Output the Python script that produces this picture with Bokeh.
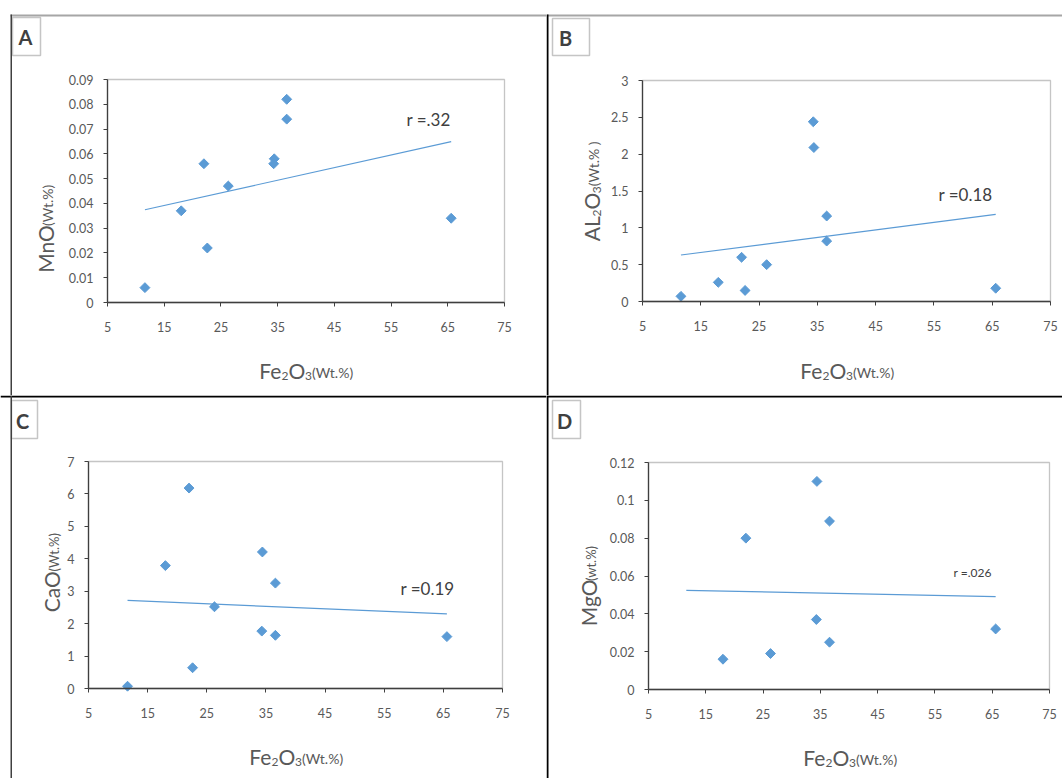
import numpy as np
from bokeh.plotting import figure
from bokeh.models import Range1d, FixedTicker, Label, BoxAnnotation
from bokeh.layouts import column, row
from bokeh.embed import file_html
from bokeh.resources import INLINE

# ---------------- data ----------------
fe2o3 = [11.6, 18.0, 22.0, 22.6, 26.3, 34.4, 34.3, 36.6, 36.6, 65.6]
mno = [0.006, 0.037, 0.056, 0.022, 0.047, 0.058, 0.056, 0.082, 0.074, 0.034]
al2o3 = [0.07, 0.26, 0.60, 0.15, 0.50, 2.09, 2.44, 1.16, 0.82, 0.18]
cao = [0.07, 3.79, 6.18, 0.64, 2.52, 4.21, 1.77, 3.25, 1.64, 1.60]
mgo = [None, 0.016, 0.080, None, 0.019, 0.110, 0.037, 0.089, 0.025, 0.032]

x_ticks = [5, 15, 25, 35, 45, 55, 65, 75]
x_tick_labels = ["5", "15", "25", "35", "45", "55", "65", "75"]
mno_ticks = [0, 0.01, 0.02, 0.03, 0.04, 0.05, 0.06, 0.07, 0.08, 0.09]
mno_labels = ["0", "0.01", "0.02", "0.03", "0.04", "0.05", "0.06", "0.07", "0.08", "0.09"]
al2o3_ticks = [0, 0.5, 1, 1.5, 2, 2.5, 3]
al2o3_labels = ["0", "0.5", "1", "1.5", "2", "2.5", "3"]
cao_ticks = [0, 1, 2, 3, 4, 5, 6, 7]
cao_labels = ["0", "1", "2", "3", "4", "5", "6", "7"]
mgo_ticks = [0, 0.02, 0.04, 0.06, 0.08, 0.1, 0.12]
mgo_labels = ["0", "0.02", "0.04", "0.06", "0.08", "0.1", "0.12"]
r_texts = ["r =.32", "r =0.18", "r =0.19", "r =.026"]
panel_letters = ["A", "B", "C", "D"]
X_MIN, X_MAX = 5, 75

FONT = "Lato"
TXT = "#595959"
DARK = "#404040"
BLUE = "#5B9BD5"

# approximate advance widths (em) used to lay out composite titles
W = {"A": .68, "C": .67, "F": .53, "L": .49, "M": .88, "O": .78, "W": .99,
     "a": .50, "e": .53, "g": .49, "n": .57, "t": .36, "w": .79,
     "(": .30, ")": .30, ".": .24, "%": .79, " ": .19,
     "2": .58, "3": .58}


def tw(s, size):
    return sum(W.get(c, .55) for c in s) * size


def box(p, x0, y0, x1, y1, color, fill=True, lw=1.5):
    b = BoxAnnotation(left=x0, right=x1, top=y0, bottom=y1,
                      left_units="canvas", right_units="canvas",
                      top_units="canvas", bottom_units="canvas")
    if fill:
        b.fill_color = color
        b.fill_alpha = 1
        b.line_alpha = 0
    else:
        b.fill_alpha = 0
        b.line_color = color
        b.line_width = lw
    p.add_layout(b)


def rich(p, pieces, base, center, vertical):
    total = sum(tw(t, s) for t, s, _ in pieces)
    if not vertical:
        pos = center - total / 2
        for t, s, sh in pieces:
            p.add_layout(Label(x=pos, y=base + sh, x_units="canvas", y_units="canvas",
                               text=t, text_font=FONT, text_font_size=f"{s}px",
                               text_color=TXT, text_align="left",
                               text_baseline="alphabetic"))
            pos += tw(t, s)
    else:
        pos = center + total / 2
        for t, s, sh in pieces:
            p.add_layout(Label(x=base + sh, y=pos, x_units="canvas", y_units="canvas",
                               text=t, text_font=FONT, text_font_size=f"{s}px",
                               text_color=TXT, text_align="left", angle=np.pi / 2,
                               text_baseline="alphabetic"))
            pos -= tw(t, s)


def fe_title():
    return [("Fe", 21, 0), ("2", 12, 5), ("O", 21, 0), ("3", 12, 5), ("(Wt.%)", 14, 2)]


def panel(w, h, frame, ymax, yvals, yticks, ylabels, ytitle, ybase, ycenter,
          xbase, xcenter, rtext, rpos, rsize, letter, lbox, lpos):
    left, right, top, bottom = frame
    xs_per_px = (X_MAX - X_MIN) / (right - left)
    ys_per_px = ymax / (bottom - top)
    xr = Range1d(X_MIN - left * xs_per_px, X_MAX + (w - right) * xs_per_px)
    yr = Range1d(-(h - bottom) * ys_per_px, ymax + top * ys_per_px)
    p = figure(width=w, height=h, x_range=xr, y_range=yr,
               output_backend="svg", toolbar_location=None,
               min_border=0, min_border_left=0, min_border_right=0,
               min_border_top=0, min_border_bottom=0,
               background_fill_color="white", border_fill_color="white",
               outline_line_color=None)
    p.xgrid.visible = False
    p.ygrid.visible = False

    # plot-area rectangle in data units
    p.add_layout(BoxAnnotation(left=X_MIN, right=X_MAX, bottom=0, top=ymax,
                               fill_alpha=0, line_color=DARK, line_width=1.3))

    for ax, ticks, labels, standoff, loc, bnd in (
            (p.xaxis[0], x_ticks, x_tick_labels, 15, 0, (X_MIN, X_MAX)),
            (p.yaxis[0], yticks, ylabels, 10, X_MIN, (0, ymax))):
        ax.fixed_location = loc
        ax.bounds = bnd
        ax.ticker = FixedTicker(ticks=ticks)
        ax.major_label_overrides = dict(zip(ticks, labels))
        ax.axis_line_color = DARK
        ax.axis_line_width = 1.3
        ax.major_tick_line_color = DARK
        ax.major_tick_in = 0
        ax.major_tick_out = 4
        ax.minor_tick_line_color = None
        ax.major_label_text_font = FONT
        ax.major_label_text_font_size = "12.5px"
        ax.major_label_text_color = TXT
        ax.major_label_standoff = standoff

    xv = [x for x, y in zip(fe2o3, yvals) if y is not None]
    yv = [y for y in yvals if y is not None]
    coef = np.polyfit(xv, yv, 1)
    xs = np.array([min(fe2o3), max(fe2o3)])
    p.line(xs, np.polyval(coef, xs), line_color=BLUE, line_width=1.2)
    p.scatter(xv, yv, marker="square", angle=np.pi / 4, size=7,
              fill_color=BLUE, line_color=BLUE)

    rich(p, ytitle, ybase, ycenter, True)
    rich(p, fe_title(), xbase, xcenter, False)
    p.add_layout(Label(x=rpos[0], y=rpos[1], x_units="canvas", y_units="canvas",
                       text=rtext, text_font=FONT, text_font_size=f"{rsize}px",
                       text_color=DARK, text_baseline="middle", text_align="left"))
    box(p, *lbox, DARK, fill=False, lw=1.5)
    p.add_layout(Label(x=lpos[0], y=lpos[1], x_units="canvas", y_units="canvas",
                       text=letter, text_font=FONT, text_font_size="20px",
                       text_font_style="bold", text_color=DARK,
                       text_baseline="middle", text_align="center"))
    return p


pA = panel(546, 395, (107, 504, 79, 302), 0.09, mno, mno_ticks, mno_labels,
           [("MnO", 21, 0), ("(Wt.%)", 14, 2)], 45, 228, 370, 306,
           r_texts[0], (406, 119), 17, panel_letters[0], (12, 17, 40, 55), (25, 36))
pB = panel(516, 395, (96, 504, 80, 301), 3, al2o3, al2o3_ticks, al2o3_labels,
           [("AL", 21, 0), ("2", 12, 5), ("O", 21, 0), ("3", 12, 5), ("(Wt.% )", 14, 2)],
           45, 191, 370, 301,
           r_texts[1], (392, 194), 17, panel_letters[1], (6, 18, 43, 55), (19, 37))
pC = panel(546, 383, (88, 502, 66, 293), 7, cao, cao_ticks, cao_labels,
           [("CaO", 21, 0), ("(Wt.%)", 13, 2)], 51, 177, 361, 296,
           r_texts[2], (400, 193), 17, panel_letters[2], (11, 5, 37, 43), (22, 25))
pD = panel(516, 383, (102, 503, 67, 294), 0.12, mgo, mgo_ticks, mgo_labels,
           [("MgO", 21, 0), ("(wt.%)", 13, 2)], 42, 190, 362, 304,
           r_texts[3], (407, 177), 12, panel_letters[3], (6, 5, 34, 43), (18, 25))

# panel frame lines
box(pA, 10, 14, 546, 16, "#a6a6a6")
box(pA, 10, 14, 11.5, 395, DARK)
box(pB, 0, 14, 516, 16, "#a6a6a6")
box(pB, 0, 14, 2, 395, "black")
box(pC, 0, 0, 546, 2, "black")
box(pC, 10, 0, 11.5, 383, DARK)
box(pD, 0, 0, 516, 2, "black")
box(pD, 0, 0, 2, 383, "black")

layout = column(row(pA, pB), row(pC, pD))
open("out.html", "w").write(file_html(layout, INLINE))
